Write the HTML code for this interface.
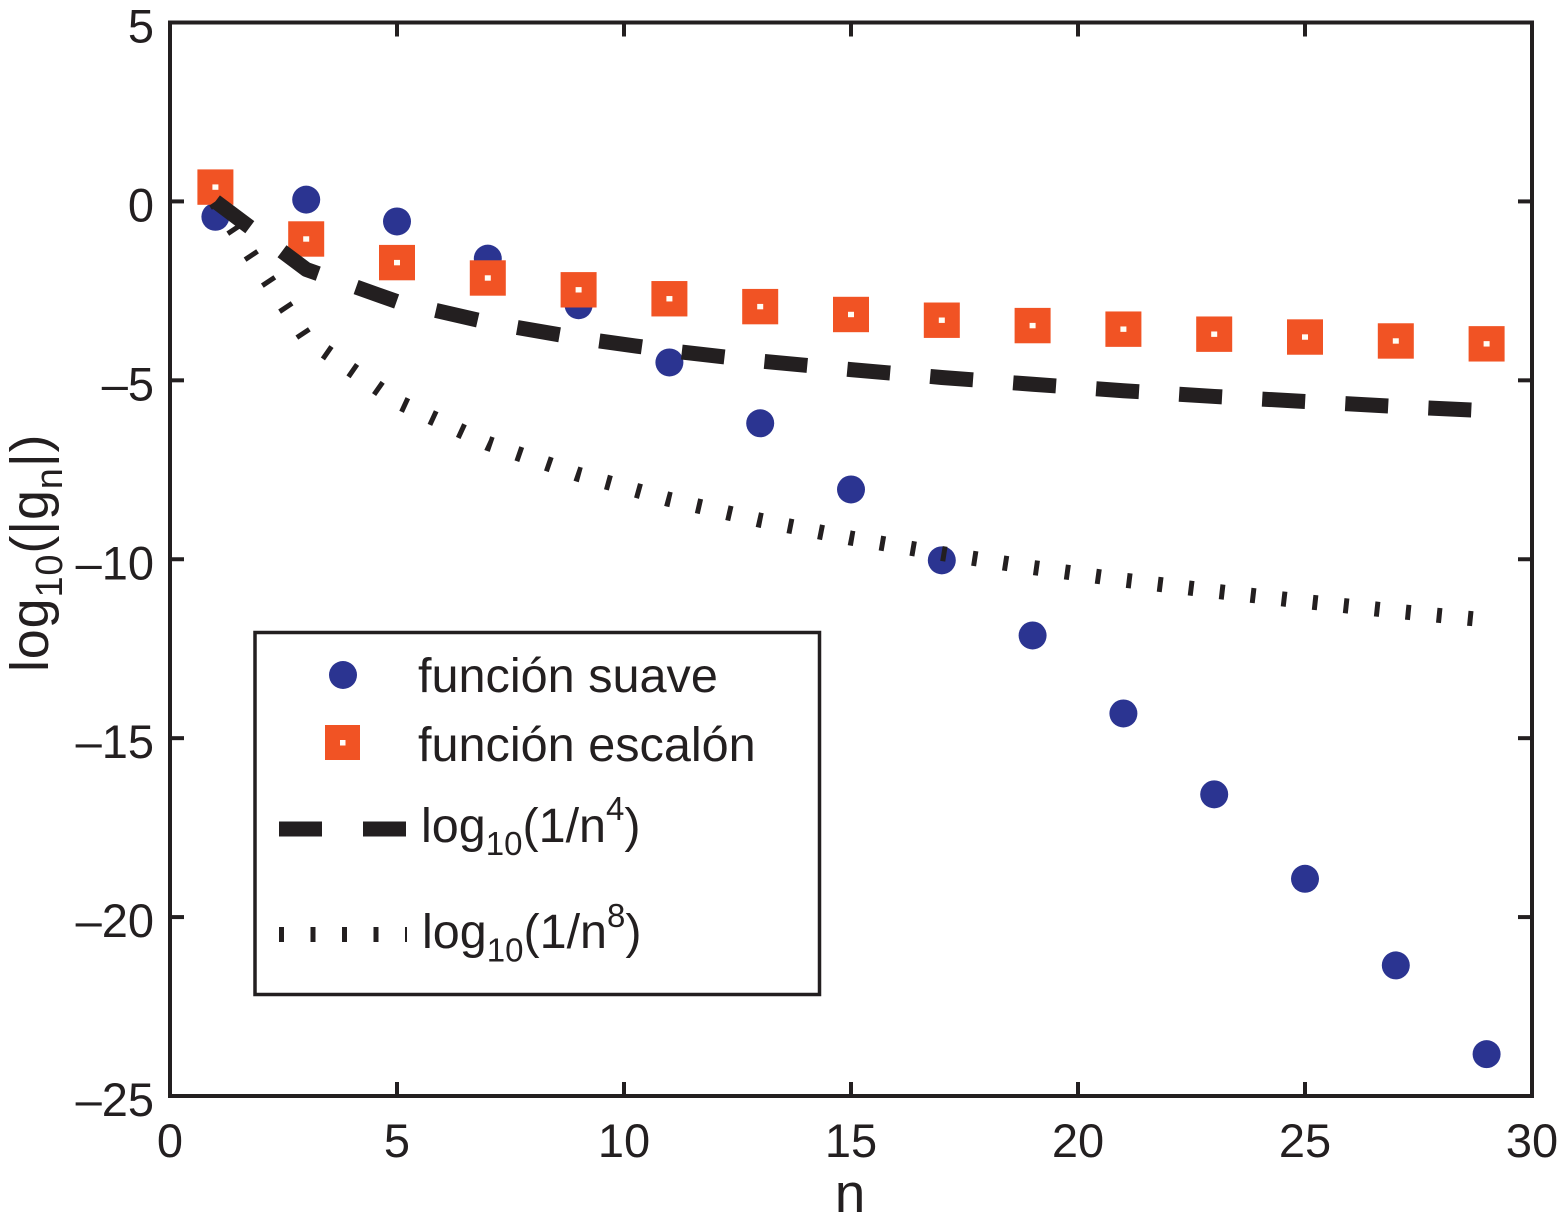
<!DOCTYPE html>
<html lang="es">
<head>
<meta charset="utf-8">
<title>log10(|gn|) vs n</title>
<style>
html,body{margin:0;padding:0;background:#fff;}
svg{display:block;}
text{font-family:"Liberation Sans",Arial,sans-serif;fill:#231f20;font-size:47px;}
</style>
</head>
<body>
<svg id="chart" xmlns="http://www.w3.org/2000/svg" width="1558" height="1225" viewBox="0 0 1558 1225">
  <rect x="0" y="0" width="1558" height="1225" fill="#ffffff"/>
  <g id="marks"></g>
  <g id="axes"></g>
  <text x="850" y="1212" text-anchor="middle" style="font-size:55px">n</text>
  <text transform="translate(48,672) rotate(-90)" style="font-size:54px;letter-spacing:0.8px">log<tspan style="font-size:38px" dy="14">10</tspan><tspan dy="-14">(|g</tspan><tspan style="font-size:38px" dy="14">n</tspan><tspan dy="-14">|)</tspan></text>
  <g>
    <rect x="255" y="632.5" width="564.5" height="362" fill="#ffffff" stroke="#231f20" stroke-width="3.5"/>
    <circle cx="343" cy="675" r="14" fill="#2b3491"/>
    <rect x="325" y="725" width="35" height="35" fill="#f15324"/>
    <rect x="340" y="740" width="5.5" height="5.5" fill="#fff"/>
    <line x1="279" y1="829" x2="406" y2="829" stroke="#231f20" stroke-width="15" stroke-dasharray="43 41"/>
    <line x1="279" y1="934.5" x2="407" y2="934.5" stroke="#231f20" stroke-width="15" stroke-dasharray="5 26.5"/>
    <text x="418" y="692" style="font-size:48.6px">función suave</text>
    <text x="418" y="761" style="font-size:48.6px">función escalón</text>
    <text x="421" y="842" style="font-size:48.5px">log<tspan style="font-size:33px" dy="13">10</tspan><tspan dy="-13">(1/n</tspan><tspan style="font-size:33px" dy="-22">4</tspan><tspan dy="22">)</tspan></text>
    <text x="422" y="948" style="font-size:48.5px">log<tspan style="font-size:33px" dy="13.5">10</tspan><tspan dy="-13.5">(1/n</tspan><tspan style="font-size:33px" dy="-21">8</tspan><tspan dy="21">)</tspan></text>
  </g>
</svg>
<script>
const nValues = [1,3,5,7,9,11,13,15,17,19,21,23,25,27,29];
const suaveValues = [-0.43,0.05,-0.56,-1.6,-2.9,-4.5,-6.2,-8.05,-10.03,-12.13,-14.31,-16.57,-18.93,-21.35,-23.83];
const escalonValues = [0.4,-1.05,-1.71,-2.14,-2.47,-2.72,-2.94,-3.16,-3.32,-3.47,-3.57,-3.71,-3.79,-3.9,-3.98];
const n4Values = [0,-1.9,-2.8,-3.38,-3.82,-4.17,-4.46,-4.7,-4.92,-5.11,-5.29,-5.45,-5.59,-5.73,-5.85];
const n8Values = [0,-3.82,-5.59,-6.76,-7.63,-8.33,-8.91,-9.41,-9.84,-10.23,-10.58,-10.89,-11.18,-11.45,-11.7];
const xTicks = [0,5,10,15,20,25,30];
const yTicks = [5,0,-5,-10,-15,-20,-25];

const NS = 'http://www.w3.org/2000/svg';
const left = 170, right = 1532, top_ = 22.5, bottom = 1096;
const xMin = 0, xMax = 30, yMin = -25, yMax = 5;
function xScale(v){ return left + (v - xMin) / (xMax - xMin) * (right - left); }
function yScale(v){ return bottom - (v - yMin) / (yMax - yMin) * (bottom - top_); }
function make(parent, tag, attrs){
  const el = document.createElementNS(NS, tag);
  for (const k in attrs) el.setAttribute(k, attrs[k]);
  parent.appendChild(el);
  return el;
}
const marks = document.getElementById('marks');
const axes = document.getElementById('axes');

suaveValues.forEach(function(v, i){
  const c = make(marks, 'circle', {cx: xScale(nValues[i]), cy: yScale(v), r: 14, fill: '#2b3491'});
  
  
});
escalonValues.forEach(function(v, i){
  const cx = xScale(nValues[i]), cy = yScale(v);
  const s = make(marks, 'rect', {x: cx - 18, y: cy - 17.7, width: 36, height: 35.4, fill: '#f15324'});
  
  
  const d = make(marks, 'rect', {x: cx - 3, y: cy - 2.7, width: 6, height: 5.4, fill: '#fffdf5'});
  
  
});
function linePath(values){
  return values.map(function(v, i){
    return (i ? 'L' : 'M') + xScale(nValues[i]).toFixed(2) + ' ' + yScale(v).toFixed(2);
  }).join(' ');
}
const lineN8 = make(marks, 'path', {d: linePath(n8Values), fill: 'none', stroke: '#231f20', 'stroke-width': 15, 'stroke-dasharray': '5 26.2', 'stroke-linejoin': 'round'});


const lineN4 = make(marks, 'path', {d: linePath(n4Values), fill: 'none', stroke: '#231f20', 'stroke-width': 15, 'stroke-dasharray': '43 40.2', 'stroke-linejoin': 'round'});



const frame = make(axes, 'rect', {x: left, y: top_, width: right - left, height: bottom - top_, fill: 'none', stroke: '#231f20', 'stroke-width': 4});



xTicks.forEach(function(v){
  const x = xScale(v);
  const t1 = make(axes, 'line', {x1: x, x2: x, y1: bottom, y2: bottom - 14, stroke: '#231f20', 'stroke-width': 4});
  
  
  const t2 = make(axes, 'line', {x1: x, x2: x, y1: top_, y2: top_ + 14, stroke: '#231f20', 'stroke-width': 4});
  
  
  const lab = make(axes, 'text', {x: x, y: 1157, 'text-anchor': 'middle'});
  
  
  lab.textContent = String(v);
});
yTicks.forEach(function(v){
  const y = yScale(v);
  const t1 = make(axes, 'line', {x1: left, x2: left + 14, y1: y, y2: y, stroke: '#231f20', 'stroke-width': 4});
  
  
  const t2 = make(axes, 'line', {x1: right, x2: right - 14, y1: y, y2: y, stroke: '#231f20', 'stroke-width': 4});
  
  
  const lab = make(axes, 'text', {x: 154, y: y + 20, 'text-anchor': 'end'});
  
  
  lab.textContent = (v < 0 ? '\u2013' + Math.abs(v) : String(v));
});
</script>
</body>
</html>
